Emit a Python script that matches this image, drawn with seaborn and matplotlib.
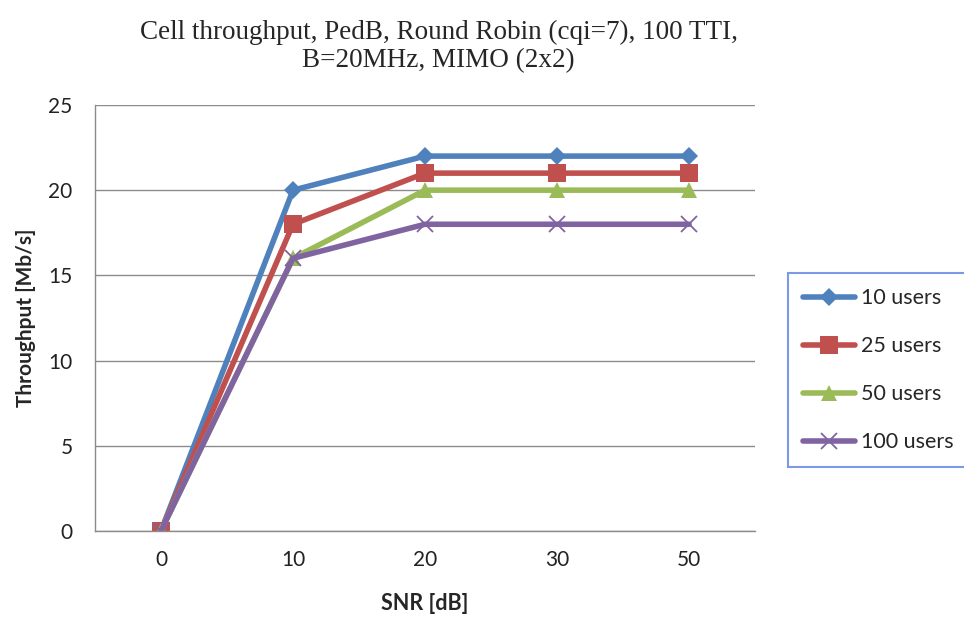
import matplotlib
matplotlib.use("Agg")
import matplotlib.pyplot as plt
import seaborn as sns
import pandas as pd

sns.set_theme(style="white")
plt.rcParams["font.family"] = ["Lato", "DejaVu Sans"]

# --- data ---
snr_labels = ["0", "10", "20", "30", "50"]
users_10 = [0, 20, 22, 22, 22]
users_25 = [0, 18, 21, 21, 21]
users_50 = [0, 16, 20, 20, 20]
users_100 = [0, 16, 18, 18, 18]
series_names = ["10 users", "25 users", "50 users", "100 users"]

colors = ["#4F81BD", "#C0504D", "#9BBB59", "#8064A2"]
markers = ["D", "s", "^", "x"]
msizes = [9, 12.5, 12, 12]

rows = []
for name, vals in zip(series_names, [users_10, users_25, users_50, users_100]):
    for i, v in enumerate(vals):
        rows.append({"pos": i, "Throughput": v, "series": name})
df = pd.DataFrame(rows)

fig = plt.figure(figsize=(9.64, 6.23), dpi=100)
ax = fig.add_axes([0.0985, 0.1477, 0.6848, 0.6838])

for name, c, m, ms in zip(series_names, colors, markers, msizes):
    sub = df[df["series"] == name]
    sns.lineplot(data=sub, x="pos", y="Throughput", ax=ax, color=c, marker=m,
                 markersize=ms, linewidth=4, label=name, markeredgecolor=c,
                 markeredgewidth=1.3 if m == "x" else 0)

ax.set_xlim(-0.5, 4.5)
ax.set_ylim(0, 25)
ax.set_yticks([0, 5, 10, 15, 20, 25])
ax.yaxis.grid(True, color="#8C8C8C", linewidth=1)
ax.set_axisbelow(True)

# category labels centred, tick marks on category boundaries
ax.set_xticks(range(len(snr_labels)))
ax.set_xticklabels(snr_labels)
ax.set_xticks([i - 0.5 for i in range(len(snr_labels) + 1)], minor=True)
ax.tick_params(axis="x", which="major", length=0, pad=14, labelsize=15, labelcolor="#222222")
ax.tick_params(axis="x", which="minor", length=6, direction="inout", color="#8C8C8C", width=1)
ax.tick_params(axis="y", length=6, direction="out", color="#8C8C8C", width=1,
               labelsize=15, pad=10, labelcolor="#222222")

for side in ["top", "right"]:
    ax.spines[side].set_visible(False)
for side in ["left", "bottom"]:
    ax.spines[side].set_color("#8C8C8C")
    ax.spines[side].set_linewidth(1)

ax.set_xlabel("SNR [dB]", fontsize=15.5, fontweight="bold", labelpad=16)
ax.set_ylabel("Throughput [Mb/s]", fontsize=15, fontweight="bold")
ax.yaxis.set_label_coords(-0.09, 0.5)

fig.text(0.455, 0.925, "Cell throughput, PedB, Round Robin (cqi=7), 100 TTI,\nB=20MHz, MIMO (2x2)",
         ha="center", va="center", fontsize=19.5, family=["Liberation Serif"], linespacing=1.15)

leg = ax.legend(loc="upper left", bbox_to_anchor=(1.05, 0.605), frameon=True,
                fancybox=False, fontsize=15.5, handlelength=2.4, labelspacing=1.3,
                borderpad=0.7, handletextpad=0.3, borderaxespad=0)
leg.get_frame().set_edgecolor("#5B7FE0")
leg.get_frame().set_linewidth(1.5)

fig.savefig("out.png", dpi=100)
